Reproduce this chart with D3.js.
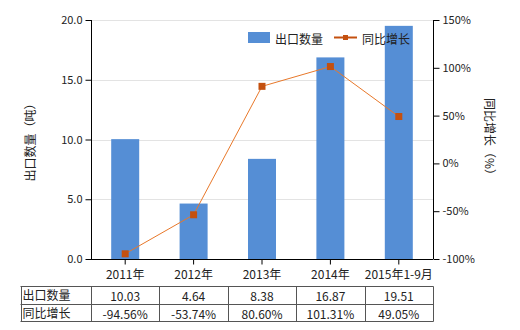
<!DOCTYPE html>
<html>
<head>
<meta charset="utf-8">
<script src="https://cdn.jsdelivr.net/npm/d3@7"></script>
<style>
  body { margin: 0; background: #fff; }
  svg { display: block; font-family: "Noto Sans CJK SC", "DejaVu Sans", sans-serif; }
</style>
</head>
<body>
<div id="chart"></div>
<script>
var categories = ["2011年", "2012年", "2013年", "2014年", "2015年1-9月"];
var exportQty = [10.03, 4.64, 8.38, 16.87, 19.51];
var growth = [-94.56, -53.74, 80.60, 101.31, 49.05];
var qtyLabels = ["10.03", "4.64", "8.38", "16.87", "19.51"];
var growthLabels = ["-94.56%", "-53.74%", "80.60%", "101.31%", "49.05%"];
var leftTicks = [0, 5, 10, 15, 20];
var rightTicks = [-100, -50, 0, 50, 100, 150];

var width = 520, height = 330;
var margin = {top: 20, left: 91, right: 87, bottom: 71};
var plotW = width - margin.left - margin.right,
    plotH = height - margin.top - margin.bottom;

var svg = d3.select("#chart").append("svg")
    .attr("width", width)
    .attr("height", height);

var x = d3.scaleBand()
    .domain(categories)
    .range([margin.left, margin.left + plotW]);

var y = d3.scaleLinear()
    .domain([0, 20])
    .range([margin.top + plotH, margin.top]);

var y2 = d3.scaleLinear()
    .domain([-100, 150])
    .range([margin.top + plotH, margin.top]);

// grid
svg.append("g")
  .selectAll("line")
  .data(leftTicks.slice(1))
  .enter().append("line")
    .attr("x1", margin.left)
    .attr("x2", margin.left + plotW)
    .attr("y1", function(d) { return Math.round(y(d)) + 0.5; })
    .attr("y2", function(d) { return Math.round(y(d)) + 0.5; })
    .attr("stroke", "#e3e3e3");

// bars
var barW = 28;
svg.append("g")
  .selectAll("rect")
  .data(exportQty)
  .enter().append("rect")
    .attr("x", function(d, i) { return x(categories[i]) + x.bandwidth() / 2 - barW / 2; })
    .attr("y", function(d) { return y(d); })
    .attr("width", barW)
    .attr("height", function(d) { return y(0) - y(d); })
    .attr("fill", "#558ed5");

// line
var line = d3.line()
    .x(function(d, i) { return x(categories[i]) + x.bandwidth() / 2; })
    .y(function(d) { return y2(d); });

svg.append("path")
    .datum(growth)
    .attr("d", line)
    .attr("fill", "none")
    .attr("stroke", "#e8782a")
    .attr("stroke-width", 1);

svg.append("g")
  .selectAll("rect")
  .data(growth)
  .enter().append("rect")
    .attr("x", function(d, i) { return x(categories[i]) + x.bandwidth() / 2 - 3.5; })
    .attr("y", function(d) { return y2(d) - 3.5; })
    .attr("width", 7)
    .attr("height", 7)
    .attr("fill", "#c4500f");

// axes
var leftAxis = d3.axisLeft(y)
    .tickValues(leftTicks)
    .tickFormat(d3.format(".1f"))
    .tickSize(6);
var gl = svg.append("g")
    .attr("transform", "translate(" + (margin.left + 0.5) + ",0)")
    .call(leftAxis);

var rightAxis = d3.axisRight(y2)
    .tickValues(rightTicks)
    .tickFormat(function(d) { return d + "%"; })
    .tickSize(6);
var gr = svg.append("g")
    .attr("transform", "translate(" + (margin.left + plotW + 0.5) + ",0)")
    .call(rightAxis);

var bottomAxis = d3.axisBottom(x).tickSize(5).tickPadding(6);
var gb = svg.append("g")
    .attr("transform", "translate(0," + (margin.top + plotH + 0.5) + ")")
    .call(bottomAxis);

[gl, gr, gb].forEach(function(g) {
  g.select(".domain").attr("stroke", "#000");
  g.selectAll(".tick line").attr("stroke", "#000");
  g.selectAll("text")
    .attr("font-size", 11)
    .attr("fill", "#222")
    .style("font-family", "\"Noto Sans CJK SC\", sans-serif");
});
gb.selectAll("text").attr("font-size", 12);
gl.select(".domain").attr("d", "M0," + margin.top + "V" + (margin.top + plotH));
gr.select(".domain").attr("d", "M0," + margin.top + "V" + (margin.top + plotH));
gb.select(".domain").attr("d", "M" + margin.left + ",0H" + (margin.left + plotW));

// axis titles
svg.append("text")
    .attr("transform", "translate(29," + (margin.top + plotH / 2) + ") rotate(-90)")
    .attr("text-anchor", "middle")
    .attr("dominant-baseline", "central")
    .attr("font-size", 12)
    .attr("fill", "#222")
    .text("出口数量（吨）");

svg.append("text")
    .attr("transform", "translate(490," + (margin.top + plotH / 2) + ") rotate(90)")
    .attr("text-anchor", "middle")
    .attr("dominant-baseline", "central")
    .attr("font-size", 12)
    .attr("fill", "#222")
    .text("同比增长（%）");

// legend
var legend = svg.append("g");
legend.append("rect")
    .attr("x", 248).attr("y", 32).attr("width", 22).attr("height", 11)
    .attr("fill", "#558ed5");
legend.append("text")
    .attr("x", 275).attr("y", 38)
    .attr("dominant-baseline", "central")
    .attr("font-size", 12).attr("fill", "#222")
    .text("出口数量");
legend.append("line")
    .attr("x1", 334).attr("x2", 357).attr("y1", 37.5).attr("y2", 37.5)
    .attr("stroke", "#c4500f").attr("stroke-width", 2);
legend.append("rect")
    .attr("x", 343).attr("y", 35).attr("width", 5).attr("height", 5)
    .attr("fill", "#c4500f");
legend.append("text")
    .attr("x", 362).attr("y", 38)
    .attr("dominant-baseline", "central")
    .attr("font-size", 12).attr("fill", "#222")
    .text("同比增长");

// table
var tableTop = 286, rowH = 17.5, tableLeft = 20.5;
var rows = [["出口数量", qtyLabels], ["同比增长", growthLabels]];
var tbl = svg.append("g");
var colEdges = [tableLeft].concat(categories.map(function(c) { return x(c); }), [margin.left + plotW]);

rows.forEach(function(r, ri) {
  var ty = tableTop + ri * rowH;
  tbl.append("text")
      .attr("x", tableLeft + 2)
      .attr("y", ty + rowH / 2)
      .attr("dominant-baseline", "central")
      .attr("font-size", 12).attr("fill", "#222")
      .text(r[0]);
  r[1].forEach(function(v, i) {
    tbl.append("text")
        .attr("x", x(categories[i]) + x.bandwidth() / 2)
        .attr("y", ty + rowH / 2 + 1)
        .attr("text-anchor", "middle")
        .attr("dominant-baseline", "central")
        .attr("font-size", 12).attr("fill", "#222")
        .text(v);
  });
});

[0, 1, 2].forEach(function(k) {
  tbl.append("line")
      .attr("x1", tableLeft).attr("x2", margin.left + plotW + 0.5)
      .attr("y1", Math.round(tableTop + k * rowH) + 0.5)
      .attr("y2", Math.round(tableTop + k * rowH) + 0.5)
      .attr("stroke", "#555");
});
colEdges.forEach(function(cx) {
  tbl.append("line")
      .attr("x1", Math.round(cx) + 0.5).attr("x2", Math.round(cx) + 0.5)
      .attr("y1", tableTop + 0.5).attr("y2", Math.round(tableTop + 2 * rowH) + 0.5)
      .attr("stroke", "#555");
});
</script>
</body>
</html>
